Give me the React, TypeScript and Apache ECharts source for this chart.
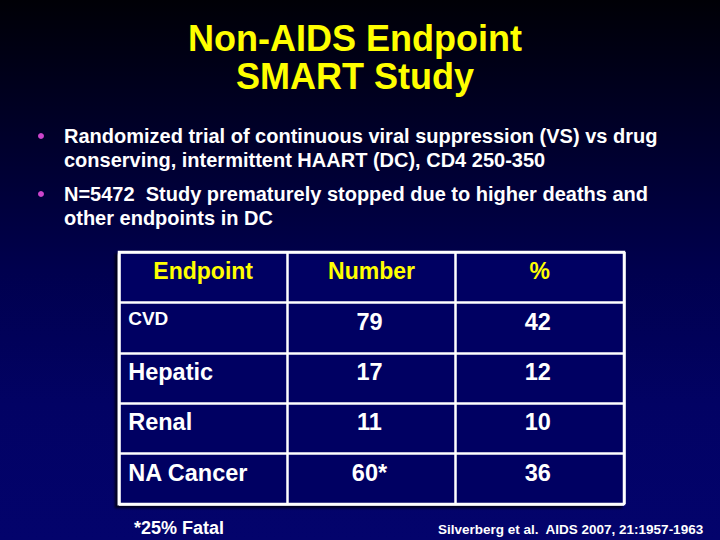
import React, { useEffect, useRef } from "react";
import * as echarts from "echarts";

const TITLE_LINES = ["Non-AIDS Endpoint", "SMART Study"];
const BULLETS = [
  ["Randomized trial of continuous viral suppression (VS) vs drug", "conserving, intermittent HAART (DC), CD4 250-350"],
  ["N=5472  Study prematurely stopped due to higher deaths and", "other endpoints in DC"],
];
const HEADERS = ["Endpoint", "Number", "%"];
const ENDPOINTS = ["CVD", "Hepatic", "Renal", "NA Cancer"];
const NUMBERS = ["79", "17", "11", "60*"];
const PERCENTS = [42, 12, 10, 36];
const FOOTNOTE = "*25% Fatal";
const CITATION = "Silverberg et al.  AIDS 2007, 21:1957-1963";

const FONT = "'Liberation Sans', Arial, Helvetica, sans-serif";
const ROW_KEYS = ["header", ...ENDPOINTS];

export default function App() {
  const ref = useRef<HTMLDivElement>(null);
  useEffect(() => {
    if (!ref.current) return;
    const chart = echarts.init(ref.current, null, { renderer: "svg" });

    const shadow = {
      textShadowColor: "rgba(0,0,0,0.85)",
      textShadowOffsetX: 2,
      textShadowOffsetY: 2,
      textShadowBlur: 0,
    };

    const graphics: any[] = [
      {
        type: "rect",
        z: -100,
        silent: true,
        shape: { x: 0, y: 0, width: 720, height: 540 },
        style: {
          fill: new echarts.graphic.LinearGradient(0, 0, 0, 1, [
            { offset: 0, color: "#000006" },
            { offset: 0.25, color: "#00002a" },
            { offset: 0.5, color: "#00004e" },
            { offset: 0.75, color: "#020264" },
            { offset: 1, color: "#03036c" },
          ]),
        },
      },
    ];

    TITLE_LINES.forEach((t, i) => {
      graphics.push({
        type: "text",
        x: 355,
        y: 38 + i * 38,
        style: {
          text: t,
          fill: "#ffff00",
          fontSize: 36,
          fontWeight: "bold",
          fontFamily: FONT,
          align: "center",
          verticalAlign: "middle",
          ...shadow,
        },
      });
    });

    graphics.push({
      type: "line",
      shape: { x1: 30, y1: 101.5, x2: 690, y2: 101.5 },
      style: { stroke: "#ffff00", lineWidth: 4, shadowColor: "rgba(0,0,0,0.8)", shadowOffsetX: 2, shadowOffsetY: 2 },
    });

    const bulletTops = [136, 194];
    BULLETS.forEach((lines, bi) => {
      graphics.push({
        type: "circle",
        shape: { cx: 41, cy: bulletTops[bi], r: 3 },
        style: { fill: "#cc44cc" },
      });
      lines.forEach((ln, li) => {
        graphics.push({
          type: "text",
          x: 64,
          y: bulletTops[bi] + li * 24,
          style: {
            text: ln,
            fill: "#ffffff",
            fontSize: 20,
            fontWeight: "bold",
            fontFamily: FONT,
            align: "left",
            verticalAlign: "middle",
            textShadowColor: "rgba(0,0,0,0.6)",
            textShadowOffsetX: 1.5,
            textShadowOffsetY: 1.5,
          },
        });
      });
    });

    graphics.push({
      type: "text",
      x: 134,
      y: 528,
      style: {
        text: FOOTNOTE,
        fill: "#ffffff",
        fontSize: 18,
        fontWeight: "bold",
        fontFamily: FONT,
        align: "left",
        verticalAlign: "middle",
        textShadowColor: "rgba(0,0,0,0.6)",
        textShadowOffsetX: 1,
        textShadowOffsetY: 1,
      },
    });
    graphics.push({
      type: "text",
      x: 438,
      y: 529,
      style: {
        text: CITATION,
        fill: "#ffffff",
        fontSize: 13.5,
        fontWeight: "bold",
        fontFamily: FONT,
        align: "left",
        verticalAlign: "middle",
      },
    });

    const baseLabel = {
      show: true,
      position: "inside",
      color: "#ffffff",
      opacity: 1,
      fontSize: 23.5,
      fontWeight: "bold",
      fontFamily: FONT,
      offset: [0, -6],
      textShadowColor: "rgba(0,0,0,0.6)",
      textShadowOffsetX: 1.5,
      textShadowOffsetY: 1.5,
    };
    const cellSeries = (data: any[], label: any, formatter: (i: number) => string) => ({
      type: "scatter",
      symbolSize: 1,
      itemStyle: { color: "rgba(0,0,0,0)", opacity: 1 },
      data,
      label: { ...baseLabel, ...label, formatter: (p: any) => formatter(p.dataIndex) },
      emphasis: { disabled: true },
      silent: true,
    });

    chart.setOption({
      animation: false,
      graphic: graphics,
      grid: {
        left: 119,
        top: 252,
        width: 505,
        height: 252,
        show: true,
        backgroundColor: "#000062",
        borderColor: "#ffffff",
        borderWidth: 2.5,
        shadowColor: "rgba(0,0,0,0.7)",
        shadowOffsetX: -3,
        shadowOffsetY: 3,
        shadowBlur: 2,
      },
      xAxis: {
        type: "category",
        data: HEADERS,
        boundaryGap: true,
        axisLine: { show: false },
        axisTick: { show: false },
        axisLabel: { show: false },
        splitLine: { show: true, interval: 0, lineStyle: { color: "#ffffff", width: 2.5 } },
      },
      yAxis: {
        type: "category",
        data: ROW_KEYS,
        inverse: true,
        boundaryGap: true,
        axisLine: { show: false },
        axisTick: { show: false },
        axisLabel: { show: false },
        splitLine: { show: true, interval: 0, lineStyle: { color: "#ffffff", width: 2.5 } },
      },
      series: [
        cellSeries(
          HEADERS.map((h) => [h, ROW_KEYS[0]]),
          { color: "#ffff00", fontSize: 23 },
          (i) => HEADERS[i]
        ),
        cellSeries(
          ENDPOINTS.map((e, j) =>
            j === 0
              ? { value: [HEADERS[0], e], label: { fontSize: 19, offset: [-75, -9] } }
              : { value: [HEADERS[0], e] }
          ),
          { align: "left", offset: [-75, -6] },
          (i) => ENDPOINTS[i]
        ),
        cellSeries(
          ENDPOINTS.map((e) => [HEADERS[1], e]),
          { offset: [-2, -6] },
          (i) => NUMBERS[i]
        ),
        cellSeries(
          ENDPOINTS.map((e) => [HEADERS[2], e]),
          { offset: [-2, -6] },
          (i) => String(PERCENTS[i])
        ),
      ],
    });
    return () => chart.dispose();
  }, []);
  return <div ref={ref} style={{ width: 720, height: 540, position: "absolute", left: 0, top: 0 }} />;
}
